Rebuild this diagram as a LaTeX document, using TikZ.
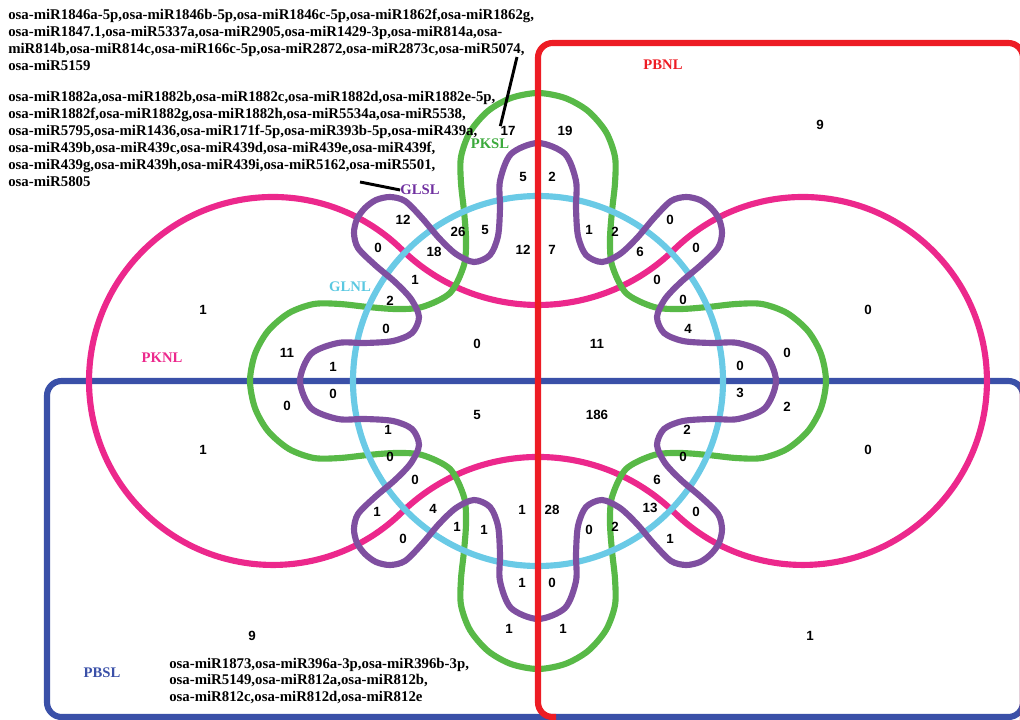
\documentclass[tikz,border=0pt]{standalone}
\usepackage{fontspec}
\setmainfont{Liberation Serif}
\setsansfont{Liberation Sans}
\definecolor{cRed}{RGB}{237,28,36}
\definecolor{cBlue}{RGB}{58,80,168}
\definecolor{cPink}{RGB}{236,40,140}
\definecolor{cGreen}{RGB}{88,185,71}
\definecolor{cPurple}{RGB}{127,79,160}
\definecolor{cCyan}{RGB}{106,202,230}
\definecolor{tGreen}{RGB}{60,170,60}
\definecolor{tPurple}{RGB}{112,48,160}
\definecolor{tCyan}{RGB}{90,200,225}
\begin{document}
\begin{tikzpicture}[x=0.75pt,y=-0.75pt,
  curve/.style={line width=4.6pt},
  num/.style={font=\sffamily\bfseries\fontsize{10}{12}\selectfont, inner sep=0pt},
  setlabel/.style={font=\bfseries\fontsize{11}{13}\selectfont, inner sep=0pt},
  mirlist/.style={font=\bfseries\fontsize{11.1}{13}\selectfont, inner sep=0pt, anchor=base west},
  leader/.style={line width=2.2pt, black}]
\useasboundingbox (0,0) rectangle (1020,720);
\clip (0,0) rectangle (1020,720);

% PBSL box
\draw[curve, cBlue, rounded corners=11pt] (47,381) rectangle (1023,717);

% PKNL: two end circles joined by two tangent inner arcs
\draw[curve, cPink, shift={(538,381)}]
  (-136.4,-131.6) arc[start angle=134.35, end angle=45.65, radius=195.1]
  arc[start angle=-134.35, end angle=134.35, radius=184]
  arc[start angle=-45.65, end angle=-134.35, radius=195.1]
  arc[start angle=45.65, end angle=314.35, radius=184] -- cycle;

% PKSL: four-lobed curve
\draw[curve, cGreen, shift={(538,381)}] plot[smooth cycle] coordinates {
 (0,-288) (-27,-283) (-50,-270) (-68,-249) (-77,-224) (-77,-198) (-74,-170) (-72,-142) (-74,-116) (-88,-88) (-116,-74) (-142,-72) (-170,-74) (-198,-77) (-224,-77) (-249,-68) (-270,-50) (-283,-27)
 (-288,0) (-283,27) (-270,50) (-249,68) (-224,77) (-198,77) (-170,74) (-142,72) (-116,74) (-88,88) (-74,116) (-72,142) (-74,170) (-77,198) (-77,224) (-68,249) (-50,270) (-27,283)
 (0,288) (27,283) (50,270) (68,249) (77,224) (77,198) (74,170) (72,142) (74,116) (88,88) (116,74) (142,72) (170,74) (198,77) (224,77) (249,68) (270,50) (283,27)
 (288,0) (283,-27) (270,-50) (249,-68) (224,-77) (198,-77) (170,-74) (142,-72) (116,-74) (88,-88) (74,-116) (72,-142) (74,-170) (77,-198) (77,-224) (68,-249) (50,-270) (27,-283)};

% GLNL circle
\draw[curve, cCyan] (538,381) circle[radius=138.75pt];

% GLSL: eight-lobed wavy curve
\draw[curve, cPurple, shift={(538,381)}] plot[smooth cycle] coordinates {
 (0,-238) (-27,-227) (-38,-200) (-38,-173) (-40,-145) (-48,-126) (-64,-119) (-82,-127) (-99,-143) (-116,-163) (-133,-180) (-148,-184) (-162,-181) (-173,-173) (-181,-162) (-184,-148) (-180,-133) (-163,-116) (-143,-99) (-127,-82) (-119,-64) (-126,-48) (-145,-40) (-173,-38) (-200,-38) (-227,-27)
 (-238,0) (-227,27) (-200,38) (-173,38) (-145,40) (-126,48) (-119,64) (-127,82) (-143,99) (-163,116) (-180,133) (-184,148) (-181,162) (-173,173) (-162,181) (-148,184) (-133,180) (-116,163) (-99,143) (-82,127) (-64,119) (-48,126) (-40,145) (-38,173) (-38,200) (-27,227)
 (0,238) (27,227) (38,200) (38,173) (40,145) (48,126) (64,119) (82,127) (99,143) (116,163) (133,180) (148,184) (162,181) (173,173) (181,162) (184,148) (180,133) (163,116) (143,99) (127,82) (119,64) (126,48) (145,40) (173,38) (200,38) (227,27)
 (238,0) (227,-27) (200,-38) (173,-38) (145,-40) (126,-48) (119,-64) (127,-82) (143,-99) (163,-116) (180,-133) (184,-148) (181,-162) (173,-173) (162,-181) (148,-184) (133,-180) (116,-163) (99,-143) (82,-127) (64,-119) (48,-126) (40,-145) (38,-173) (38,-200) (27,-227)};

% PBNL box (bottom edge lies under the PBSL box)
\draw[curve, cRed, rounded corners=11pt] (1023,740) -- (1023,43) -- (538,43) -- (538,717) -- (556,717);

% set names
\node[setlabel, text=cRed] (pbnl) at (663,65) {PBNL};
\node[setlabel, text=tGreen] (pksl) at (490,144) {PKSL};
\node[setlabel, text=tPurple] (glsl) at (420,190) {GLSL};
\node[setlabel, text=tCyan] (glnl) at (350,287) {GLNL};
\node[setlabel, text=cPink] (pknl) at (162,358) {PKNL};
\node[setlabel, text=cBlue] (pbsl) at (102,673) {PBSL};

% region counts
\node[num] (n17) at (508,131) {17};
\node[num] (n19) at (565,131) {19};
\node[num] (a1) at (523,177) {5};
\node[num] (a2) at (552,177) {2};
\node[num] (a3) at (458,232) {26};
\node[num] (a4) at (485,230) {5};
\node[num] (a5) at (523,250) {12};
\node[num] (a6) at (552,250) {7};
\node[num] (a7) at (589,230) {1};
\node[num] (a8) at (615,232) {2};
\node[num] (a9) at (640,252) {6};
\node[num] (b1) at (403,220) {12};
\node[num] (b2) at (378,248) {0};
\node[num] (b3) at (434,252) {18};
\node[num] (b4) at (415,280) {1};
\node[num] (b5) at (390,301) {2};
\node[num] (b6) at (386,329) {0};
\node[num] (c1) at (670,220) {0};
\node[num] (c2) at (696,248) {0};
\node[num] (c3) at (657,280) {0};
\node[num] (c4) at (683,300) {0};
\node[num] (c5) at (688,329) {4};
\node[num] (d1) at (820,125) {9};
\node[num] (d2) at (203,310) {1};
\node[num] (d3) at (868,310) {0};
\node[num] (d4) at (477,344) {0};
\node[num] (d5) at (597,344) {11};
\node[num] (e1) at (287,353) {11};
\node[num] (e2) at (333,367) {1};
\node[num] (e3) at (287,406) {0};
\node[num] (e4) at (333,394) {0};
\node[num] (e5) at (787,353) {0};
\node[num] (e6) at (740,366) {0};
\node[num] (e7) at (740,393) {3};
\node[num] (e8) at (787,407) {2};
\node[num] (f1) at (477,415) {5};
\node[num] (f2) at (597,415) {186};
\node[num] (f3) at (203,450) {1};
\node[num] (f4) at (868,450) {0};
\node[num] (g1) at (388,430) {1};
\node[num] (g2) at (390,457) {0};
\node[num] (g3) at (687,430) {2};
\node[num] (g4) at (683,457) {0};
\node[num] (g5) at (415,480) {0};
\node[num] (g6) at (657,480) {6};
\node[num] (h1) at (377,512) {1};
\node[num] (h2) at (433,509) {4};
\node[num] (h3) at (457,527) {1};
\node[num] (h4) at (484,530) {1};
\node[num] (h5) at (522,510) {1};
\node[num] (h6) at (552,510) {28};
\node[num] (h7) at (589,530) {0};
\node[num] (h8) at (615,527) {2};
\node[num] (h9) at (650,508) {13};
\node[num] (h10) at (696,512) {0};
\node[num] (h11) at (403,539) {0};
\node[num] (h12) at (670,539) {1};
\node[num] (i1) at (522,583) {1};
\node[num] (i2) at (552,583) {0};
\node[num] (i3) at (509,629) {1};
\node[num] (i4) at (563,629) {1};
\node[num] (i5) at (252,636) {9};
\node[num] (i6) at (810,636) {1};

% miRNA lists
\node[mirlist] (m1) at (8,20) {osa-miR1846a-5p,osa-miR1846b-5p,osa-miR1846c-5p,osa-miR1862f,osa-miR1862g,};
\node[mirlist] (m2) at (8,37) {osa-miR1847.1,osa-miR5337a,osa-miR2905,osa-miR1429-3p,osa-miR814a,osa-};
\node[mirlist] (m3) at (8,54) {miR814b,osa-miR814c,osa-miR166c-5p,osa-miR2872,osa-miR2873c,osa-miR5074,};
\node[mirlist] (m4) at (8,71) {osa-miR5159};
\node[mirlist] (k1) at (8,102) {osa-miR1882a,osa-miR1882b,osa-miR1882c,osa-miR1882d,osa-miR1882e-5p,};
\node[mirlist] (k2) at (8,119) {osa-miR1882f,osa-miR1882g,osa-miR1882h,osa-miR5534a,osa-miR5538,};
\node[mirlist] (k3) at (8,136) {osa-miR5795,osa-miR1436,osa-miR171f-5p,osa-miR393b-5p,osa-miR439a,};
\node[mirlist] (k4) at (8,153) {osa-miR439b,osa-miR439c,osa-miR439d,osa-miR439e,osa-miR439f,};
\node[mirlist] (k5) at (8,170) {osa-miR439g,osa-miR439h,osa-miR439i,osa-miR5162,osa-miR5501,};
\node[mirlist] (k6) at (8,187) {osa-miR5805};
\node[mirlist] (s1) at (169,668) {osa-miR1873,osa-miR396a-3p,osa-miR396b-3p,};
\node[mirlist] (s2) at (169,684) {osa-miR5149,osa-miR812a,osa-miR812b,};
\node[mirlist] (s3) at (169,701) {osa-miR812c,osa-miR812d,osa-miR812e};

% leader lines
\coordinate (top17) at (517,57);
\coordinate (topgl) at (360,182);
\draw[leader] (top17) -- (n17.north west);
\draw[leader] (topgl) -- (glsl.west);
\end{tikzpicture}
\end{document}
